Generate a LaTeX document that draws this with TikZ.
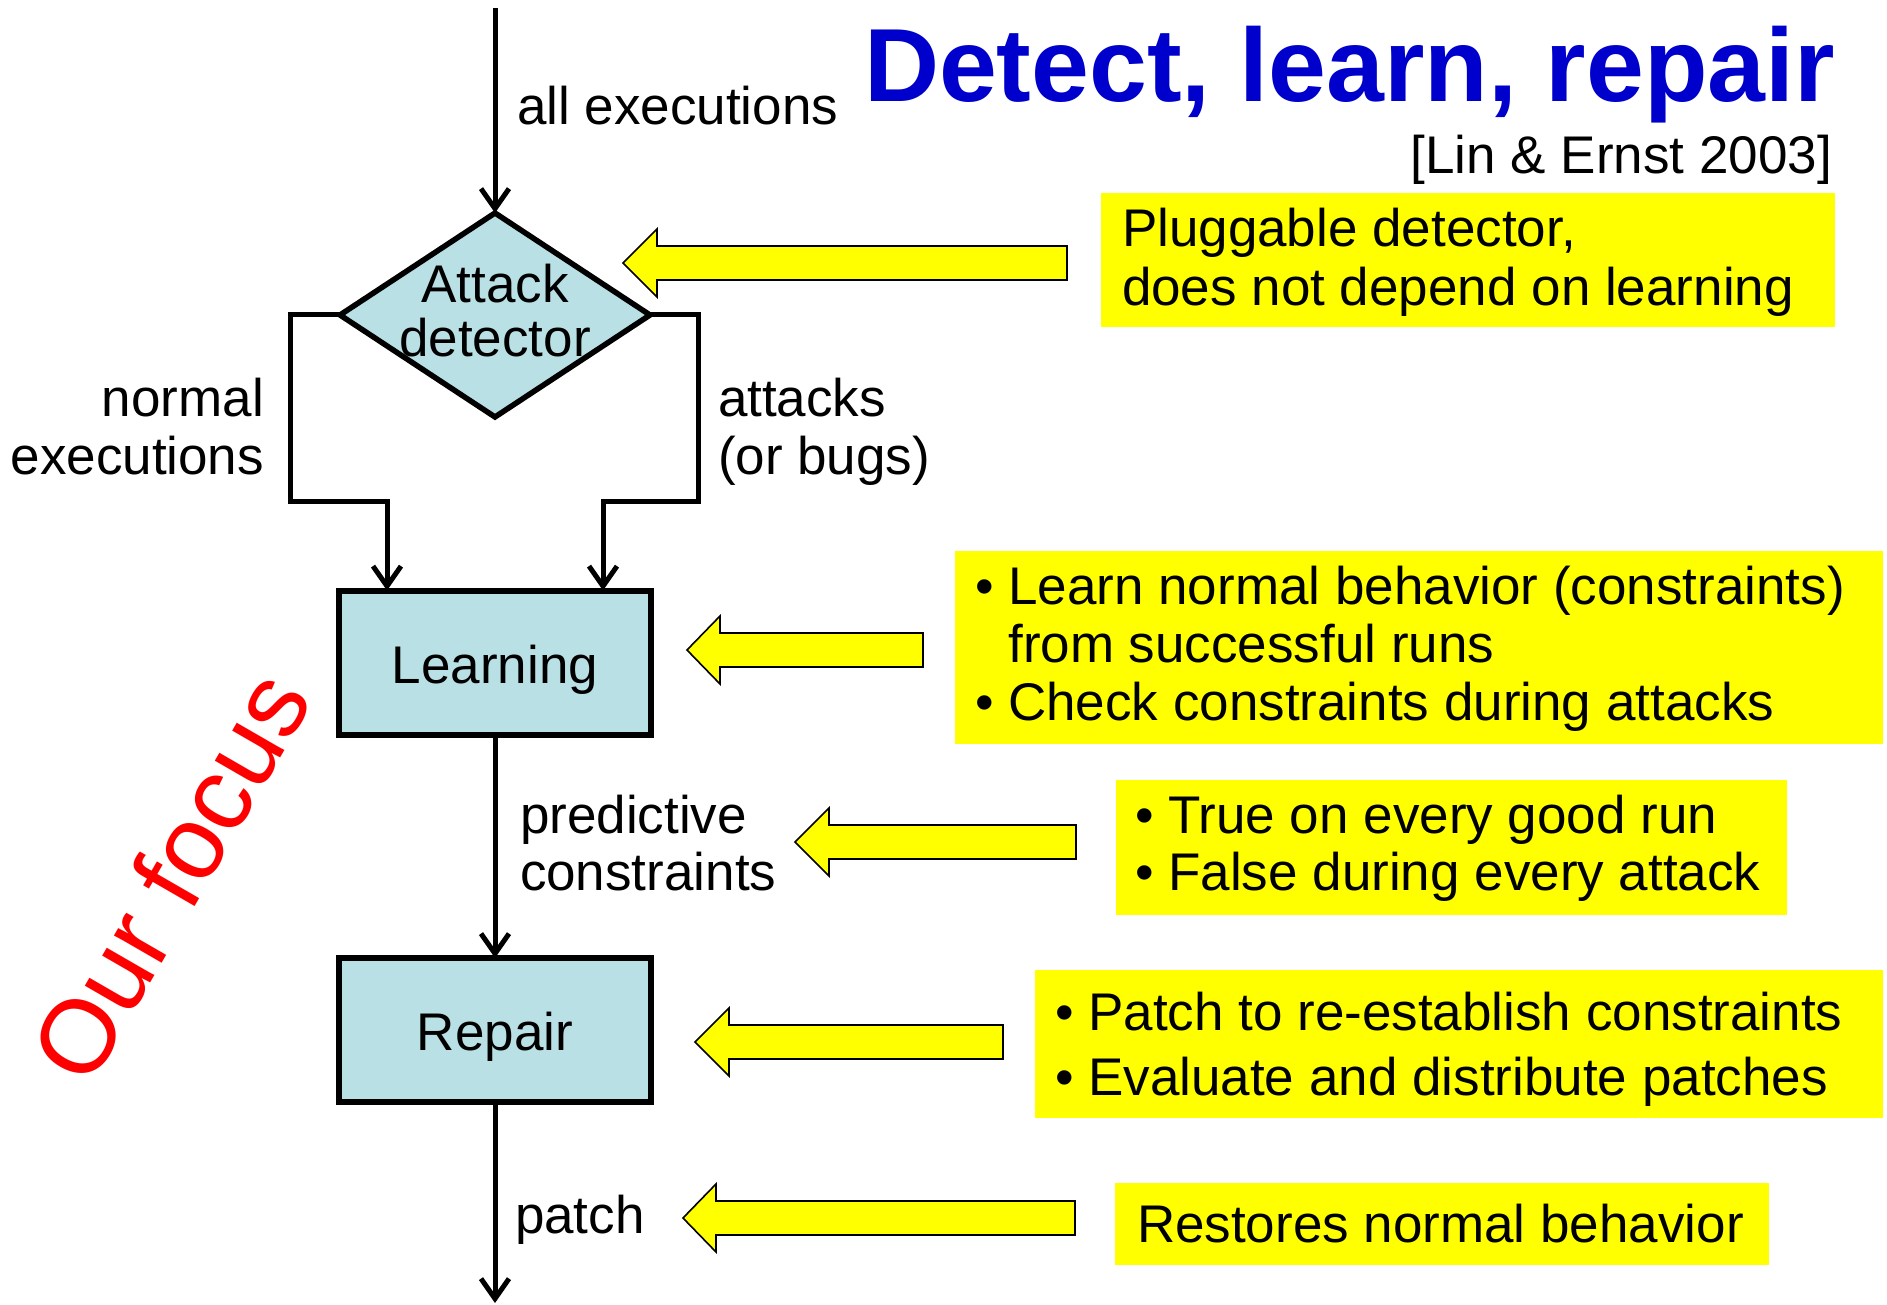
\documentclass[tikz,border=0pt]{standalone}
\usepackage{fontspec}
\setmainfont{Liberation Sans}
\usetikzlibrary{arrows.meta,shapes.geometric}

\definecolor{boxfill}{RGB}{185,224,228}
\definecolor{titleblue}{RGB}{0,0,204}
\definecolor{focusred}{RGB}{255,0,0}
\definecolor{noteyellow}{RGB}{255,255,0}

% stacked lines: #1 column alignment, #2 line spacing, #3 lines
\newcommand\textlines[3]{{\fontsize{26.5}{#2}\selectfont\begin{tabular}[t]{@{}#1@{}}#3\end{tabular}}}

% yellow block arrow pointing left: tip x, tip y, tail x, head length
\newcommand\yellowpointer[4]{%
  \draw[yarrow] (#1,#2) -- ({#1+#4},{#2-34}) -- ({#1+#4},{#2-17}) -- (#3,{#2-17})
    -- (#3,{#2+17}) -- ({#1+#4},{#2+17}) -- ({#1+#4},{#2+34}) -- cycle;}

\begin{document}
\begin{tikzpicture}[x=0.5pt,y=-0.5pt,
  every node/.style={font=\fontsize{26.5}{29}\selectfont, inner sep=0pt, outer sep=0pt},
  flow/.style={line width=2.5pt, -{Straight Barb[length=10pt,width=14pt,line width=2.5pt]}},
  stepbox/.style={draw, line width=3pt, fill=boxfill, minimum width=156pt,
    minimum height=72pt, text height=20.5pt, text depth=0pt},
  decision/.style={diamond, draw, line width=2.75pt, fill=boxfill,
    minimum width=155pt, minimum height=102pt},
  note/.style={fill=noteyellow, anchor=north west},
  txt/.style={anchor=base west},
  yarrow/.style={fill=noteyellow, draw=black, line width=0.8pt}]

\useasboundingbox[fill=white] (0,0) rectangle (1887,1305);

% title and reference
\node[anchor=base west, text=titleblue, font=\bfseries\fontsize{52}{62}\selectfont]
  (title) at (864,102) {Detect, learn, repair};
\node[anchor=base east] (cite) at (1832,174) {[Lin \& Ernst 2003]};

% flow chart
\node[decision] (det) at (495,315) {};
\node[anchor=base] (dettxt) at (495,303) {\textlines{c}{24.5pt}{Attack\\detector}};
\node[stepbox] (learn) at (495,662.5) {Learning};
\node[stepbox] (rep) at (495,1030) {Repair};

\coordinate (in) at (495,8);
\coordinate (out) at (495,1303);
\coordinate (lbend) at (290,502);
\coordinate (rbend) at (698,502);

\draw[flow] (in) -- (det.north);
\draw[flow] (det.west) -| (lbend) -| ([xshift=-54pt]learn.north);
\draw[flow] (det.east) -| (rbend) -| ([xshift=54pt]learn.north);
\draw[flow] (learn) -- (rep);
\draw[flow] (rep) -- (out);

% connector labels
\node[txt] (allexec) at (517,125) {all executions};
\node[anchor=base east] (normal) at (264,416) {\textlines{r}{29pt}{normal\\executions}};
\node[txt] (attacks) at (718,416) {\textlines{l}{29pt}{attacks\\(or bugs)}};
\node[txt] (pred) at (520,833) {\textlines{l}{28.5pt}{predictive\\constraints}};
\node[txt] (patch) at (515,1233) {patch};

% emphasis
\node[rotate=60, text=focusred, font=\fontsize{52}{62}\selectfont] (focus) at (170,876) {Our focus};

% notes
\node[note, minimum width=367pt, minimum height=67pt] (n1) at (1101,193) {};
\node[txt] (n1t) at (1122,247) {\textlines{l}{29.5pt}{Pluggable detector,\\does not depend on learning}};

\node[note, minimum width=464pt, minimum height=96.5pt] (n2) at (955,551) {};
\node[txt] (n2t) at (975,604) {\textlines{l}{29pt}{• Learn normal behavior (constraints)\\\phantom{• }from successful runs\\• Check constraints during attacks}};

\node[note, minimum width=335.5pt, minimum height=67.5pt] (n3) at (1116,780) {};
\node[txt] (n3t) at (1135,833) {\textlines{l}{28.5pt}{• True on every good run\\• False during every attack}};

\node[note, minimum width=424pt, minimum height=74pt] (n4) at (1035,970) {};
\node[txt] (n4t) at (1055,1030) {\textlines{l}{32.5pt}{• Patch to re-establish constraints\\• Evaluate and distribute patches}};

\node[note, minimum width=327pt, minimum height=41pt] (n5) at (1115,1183) {};
\node[txt] (n5t) at (1137,1242) {Restores normal behavior};

% block arrows from the notes
\yellowpointer{623}{263}{1067}{34}
\yellowpointer{687}{650}{923}{33}
\yellowpointer{795}{842}{1076}{34}
\yellowpointer{695}{1042}{1003}{34}
\yellowpointer{683}{1218}{1075}{33}

\end{tikzpicture}
\end{document}
